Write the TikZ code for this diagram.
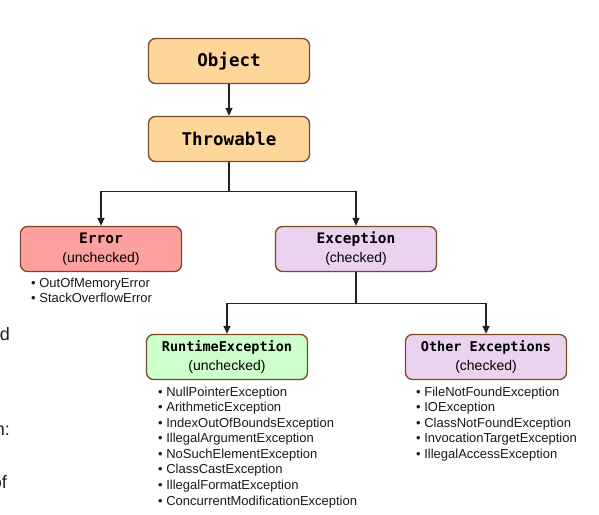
\documentclass[tikz,border=0pt]{standalone}
\usepackage{fontspec}
\setmainfont{Liberation Sans}
\setmonofont{DejaVu Sans Mono}
\usetikzlibrary{arrows.meta}
\definecolor{boxline}{HTML}{7A4A26}
\definecolor{objfill}{HTML}{FFD699}
\definecolor{errfill}{HTML}{FFA0A0}
\definecolor{excfill}{HTML}{E9D3EE}
\definecolor{rtfill}{HTML}{CCFFCC}
\definecolor{linecol}{HTML}{222222}
\definecolor{slidetext}{HTML}{1A1A2A}

\begin{document}
\begin{tikzpicture}[x=1pt, y=-1pt,
classbox/.style={rectangle, rounded corners=7pt, draw=boxline, line width=1.3pt, minimum width=161pt, minimum height=45pt, inner sep=0pt, align=center, font=\fontsize{14}{19}\selectfont},
bigtitle/.style={font=\ttfamily\bfseries\fontsize{17.5}{20}\selectfont},
bulletlist/.style={anchor=north west, inner sep=0pt, align=left, text=black!90, font=\fontsize{13}{15.56}\selectfont},
connector/.style={draw=linecol, line width=1.3pt, -{Triangle[length=8pt,width=7pt]}},
]
\useasboundingbox (0,0) rectangle (599,514);
%Nodes
\node[classbox, fill=objfill, bigtitle] at (229,61) (object) {Object};
\node[classbox, fill=objfill, bigtitle] at (229,139) (throwable) {Throwable};
\node[classbox, fill=errfill] at (101,249) (error) {{\ttfamily\bfseries\fontsize{14.5}{19}\selectfont Error}\\(unchecked)};
\node[classbox, fill=excfill] at (356,249) (exception) {{\ttfamily\bfseries\fontsize{14.5}{19}\selectfont Exception}\\(checked)};
\node[classbox, fill=rtfill] at (227,357) (runtime) {{\ttfamily\bfseries\fontsize{13.5}{19}\selectfont RuntimeException}\\(unchecked)};
\node[classbox, fill=excfill] at (486,357) (other) {{\ttfamily\bfseries\fontsize{13.5}{19}\selectfont Other Exceptions}\\(checked)};
%Lists
\node[bulletlist] at (31,277.5) (errlist) {• OutOfMemoryError\\• StackOverflowError};
\node[bulletlist] at (158,386.5) (rtlist) {• NullPointerException\\• ArithmeticException\\• IndexOutOfBoundsException\\• IllegalArgumentException\\• NoSuchElementException\\• ClassCastException\\• IllegalFormatException\\• ConcurrentModificationException};
\node[bulletlist] at (416,386.5) (otherlist) {• FileNotFoundException\\• IOException\\• ClassNotFoundException\\• InvocationTargetException\\• IllegalAccessException};
%Slide text cut off at the left
\node[anchor=base east, inner sep=0pt, text=slidetext, font=\fontsize{18}{20}\selectfont] at (10,340) (frag1) {d};
\node[anchor=base east, inner sep=0pt, text=slidetext, font=\fontsize{18}{20}\selectfont] at (10,435) (frag2) {n:};
\node[anchor=base east, inner sep=0pt, text=slidetext, font=\fontsize{18}{20}\selectfont] at (7,488) (frag3) {of};
%Lines
\path[connector] (object) -- (throwable);
\path[connector] (throwable.south) -- ++(0,29) -| (error.north);
\path[connector] (throwable.south) -- ++(0,29) -| (exception.north);
\path[connector] (exception.south) -- ++(0,31) -| (runtime.north);
\path[connector] (exception.south) -- ++(0,31) -| (other.north);
\end{tikzpicture}
\end{document}
